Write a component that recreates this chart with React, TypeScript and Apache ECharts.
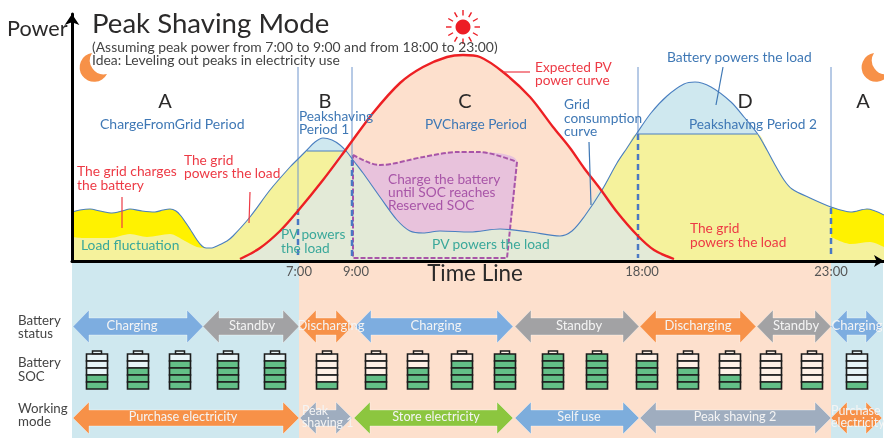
import React, { useEffect, useRef } from "react";
import * as echarts from "echarts";

// Time line is a schematic axis: x is position along the line, y is relative power.
const loadCurve: number[][] = [[72,49],[80,51],[90,52],[100,50],[112,48],[122,50],[130,52],[142,50],[155,49],[163,51],[170,52],[176,50],[181,45],[186,38],[190,32],[197,21],[202,15],[206,13],[212,13],[217,15],[227,20],[233,25],[250,44],[270,71],[290,94],[298,102],[307,111],[315,119],[323,123],[332,121],[340,116],[347,109],[353,101],[363,88],[380,64],[397,41],[410,30],[423,28],[440,30],[470,29],[500,32],[530,29],[560,25],[572,30],[584,44],[602,71],[617,98],[627,113],[637,128],[651,148],[667,165],[684,177],[695,179],[711,174],[731,159],[744,144],[757,128],[767,111],[774,98],[784,81],[792,72],[810,63],[831,54],[851,49],[867,52],[884,46]];
const pvCurve: number[][] = [[240,2],[260,13],[280,30],[297,49],[323,81],[347,113],[373,148],[400,178],[423,194],[447,204],[463,206],[480,204],[503,189],[530,164],[553,134],[570,113],[584,93],[601,71],[617,49],[637,26],[654,11],[674,2]];
const gridChargeFloorLeft: number[][] = [[72,24],[83,23],[110,23],[130,27],[147,24],[170,27],[185,20],[197,14],[206,13]];
const gridChargeFloorRight: number[][] = [[831,24],[851,17],[870,19],[884,14]];
const shaveLimit1 = [[307,110],[347,110]];
const shaveLimit2 = [[637,127],[757,127]];
const pvChargeTop: number[][] = [[353,106],[370,98],[380,96],[423,104],[457,109],[480,109],[517,99]];
const pvChargeEdge: number[][] = [[517,99],[507,3],[353,3],[353,106]];

const timeTickValues = [299, 356, 642, 831];
const timeTickLabels = ["7:00", "9:00", "18:00", "23:00"];
const periodLines = [298, 352, 638, 831];
const periodDashTops = [52, 101, 127, 53];
const periodBands = [[72,299],[299,831],[831,883]];
const periodBandNames = ["night", "day", "night"];

const statusSpans = [[73,203],[203,299],[300,352],[355,513],[515,639],[640,756],[757,831],[831,882]];
const statusLabels = ["Charging","Standby","Discharging","Charging","Standby","Discharging","Standby","Charging"];
const statusLabelCentres = [132,252,331,436,579,698,796,857];
const modeSpans = [[73,299],[300,352],[354,513],[515,639],[640,831],[831,882]];
const modeLabels = ["Purchase electricity","Peak\nshaving 1","Store electricity","Self use","Peak shaving 2","Purchase\nelectricity"];
const modeLabelCentres = [183,302,436,579,735,831];
const batteryPositions = [97,138,180,228,275,327,376,418,462,505,553,597,647,688,730,771,812,857];
const batteryLevels = [2,3,4,4,4,1,2,3,4,5,5,5,4,3,2,1,1,1];

const FONT = "Lato";
const BLUE = "#3f78b5", RED = "#ed3a45", TEAL = "#3aa89a", PURPLE = "#a855a8", DARK = "#2b2a2a", GREY = "#444444";

// [x, y, text, size, colour, align]
const notes: [number, number, string, number, string, string?][] = [
  [7, 28.3, "Power", 21.6, DARK],
  [92, 22, "Peak Shaving Mode", 27.6, DARK],
  [92, 46.3, "(Assuming peak power from 7:00 to 9:00 and from 18:00 to 23:00)", 13.9, GREY],
  [92, 59.3, "Idea: Leveling out peaks in electricity use", 13.9, GREY],
  [165, 99.5, "A", 20, DARK, "center"],
  [325, 99.5, "B", 20, DARK, "center"],
  [465, 99.5, "C", 20, DARK, "center"],
  [745, 99.5, "D", 20, DARK, "center"],
  [863, 99.5, "A", 20, DARK, "center"],
  [100, 123.3, "ChargeFromGrid Period", 14, BLUE],
  [299, 115.3, "Peakshaving", 13.7, BLUE],
  [299, 128.3, "Period 1", 13.7, BLUE],
  [425, 123.3, "PVCharge Period", 13.7, BLUE],
  [564, 103.3, "Grid", 13.7, BLUE],
  [564, 117.3, "consumption", 13.7, BLUE],
  [564, 130.3, "curve", 13.7, BLUE],
  [667, 56.3, "Battery powers the load", 13.8, BLUE],
  [689, 123.3, "Peakshaving Period 2", 13.7, BLUE],
  [535, 66.3, "Expected PV", 13.7, RED],
  [535, 79.3, "power curve", 13.7, RED],
  [77, 170.3, "The grid charges", 13.8, RED],
  [77, 184.3, "the battery", 13.8, RED],
  [184, 159.3, "The grid", 13.7, RED],
  [184, 172.3, "powers the load", 13.7, RED],
  [690, 227.3, "The grid", 13.7, RED],
  [690, 241.3, "powers the load", 13.7, RED],
  [81, 244.3, "Load fluctuation", 13.8, TEAL],
  [281, 233.3, "PV powers", 13.7, TEAL],
  [281, 247.3, "the load", 13.7, TEAL],
  [432, 243.3, "PV powers the load", 13.8, TEAL],
  [388, 178.3, "Charge the battery", 13.7, PURPLE],
  [388, 191.3, "until SOC reaches", 13.7, PURPLE],
  [388, 204.3, "Reserved SOC", 13.7, PURPLE],
  [475, 272.3, "Time Line", 22.4, DARK, "center"],
  [18, 320, "Battery", 13.3, GREY],
  [18, 333, "status", 13.3, GREY],
  [18, 362, "Battery", 13.3, GREY],
  [18, 376, "SOC", 13.3, GREY],
  [18, 408, "Working", 13.3, GREY],
  [18, 421, "mode", 13.3, GREY],
];

const colourOf: Record<string, string> = {
  Charging: "#7dade0", Standby: "#a2a2a4", Discharging: "#f79148",
  "Purchase electricity": "#f79148", "Purchase\nelectricity": "#f79148",
  "Peak\nshaving 1": "#9fadbf", "Peak shaving 2": "#9fadbf",
  "Store electricity": "#8cc63f", "Self use": "#7daddc",
};

echarts.graphic.registerShape("moon", echarts.graphic.extendPath("M15 0A14.5 14.5 0 1 0 30 21A14 14 0 0 1 15 0Z", {}) as any);

const xOf = (p: number[]) => p[0];
const cappedLoad = [
  ...loadCurve.filter((p) => xOf(p) < 307), ...shaveLimit1,
  ...loadCurve.filter((p) => xOf(p) > 347 && xOf(p) < 637), ...shaveLimit2,
  ...loadCurve.filter((p) => xOf(p) > 757),
];
const pvUsedByLoad = [
  ...pvCurve.filter((p) => xOf(p) <= 347),
  ...loadCurve.filter((p) => xOf(p) > 347 && xOf(p) < 601),
  ...pvCurve.filter((p) => xOf(p) >= 601),
];
const fill = (name: string, data: number[][], color: string, smooth = 0.3) => ({
  name, type: "line", data, smooth, symbol: "none", silent: true,
  lineStyle: { width: 0 }, areaStyle: { color, opacity: 1, origin: "start" },
});
const stroke = (name: string, data: number[][], color: string, width: number, extra: any = {}, z = 4) => ({
  name, type: "line", data, symbol: "none", silent: true, smooth: false, z,
  lineStyle: { color, width, ...extra },
});

const arrowSeries = (name: string, spans: number[][], labels: string[], centres: number[], rowY: number, half: number, shaft: number, size: number) => [
  {
    name, type: "custom", xAxisIndex: 1, yAxisIndex: 1, z: 3, silent: true,
    data: spans.map((s) => [s[0], rowY]),
    renderItem: (params: any, api: any) => {
      const i = params.dataIndex;
      const [s, e] = spans[i];
      const [x0, y] = api.coord([s, rowY]);
      const [x1] = api.coord([e, rowY]);
      const head = 16;
      return {
        type: "polygon",
        shape: { points: [[x0, y], [x0 + head, y - half], [x0 + head, y - shaft], [x1 - head, y - shaft], [x1 - head, y - half], [x1, y], [x1 - head, y + half], [x1 - head, y + shaft], [x0 + head, y + shaft], [x0 + head, y + half]] },
        style: { fill: colourOf[labels[i]], stroke: "rgba(255,255,255,0.35)", lineWidth: 1 },
      };
    },
  },
  {
    name: name + " labels", type: "custom", xAxisIndex: 1, yAxisIndex: 1, z: 8, silent: true,
    data: spans.map((s) => [s[0], rowY]),
    renderItem: (params: any, api: any) => {
      const i = params.dataIndex;
      const [tx, y] = api.coord([centres[i], rowY]);
      const lines = labels[i].split("\n");
      const two = lines.length > 1;
      return {
        type: "group",
        children: lines.map((t, k) => ({
          type: "text",
          style: {
            text: t, x: tx, y: y - 2 + (two ? (k === 0 ? -6 : 6) : 0),
            fill: "#f4f4f4", fontSize: two ? 12.4 : size, fontFamily: FONT,
            align: two ? "left" : "center", verticalAlign: "middle",
          },
        })),
      };
    },
  },
];

const App = () => {
  const ref = useRef<HTMLDivElement>(null);
  useEffect(() => {
    const chart = echarts.init(ref.current!, undefined, { renderer: "svg" });
    const rays = Array.from({ length: 12 }, (_, i) => {
      const a = (i * Math.PI) / 6;
      return {
        type: "line", z: 100,
        shape: { x1: 463 + 11.5 * Math.cos(a), y1: 27 + 11.5 * Math.sin(a), x2: 463 + 17 * Math.cos(a), y2: 27 + 17 * Math.sin(a) },
        style: { stroke: "#ed1c24", lineWidth: 1.4 },
      };
    });
    const pointers = [
      [503, 72, 530, 72, RED], [122, 197, 122, 228, RED], [250, 192, 249, 223, RED],
      [723, 67, 716, 105, BLUE], [589, 142, 591, 205, BLUE],
    ];
    chart.setOption({
      animation: false,
      grid: [
        { left: 72, top: 14, width: 812, height: 247 },
        { left: 72, top: 263, width: 812, height: 175 },
      ],
      xAxis: [
        {
          type: "value", gridIndex: 0, min: 72, max: 884, z: 10,
          splitLine: { show: false },
          axisTick: { show: false },
          axisLine: { show: true, lineStyle: { color: "#000", width: 3 }, symbol: ["none", "arrow"], symbolSize: [9, 10] },
          axisLabel: {
            show: true, customValues: timeTickValues, margin: 3, color: "#555555", fontSize: 13, fontFamily: FONT,
            formatter: (v: number) => timeTickLabels[timeTickValues.indexOf(v)] ?? "",
          },
        },
        { type: "value", gridIndex: 1, min: 72, max: 884, show: false },
      ],
      yAxis: [
        {
          type: "value", gridIndex: 0, min: 0, max: 247, z: 10,
          splitLine: { show: false }, axisTick: { show: false }, axisLabel: { show: false },
          axisLine: { show: true, lineStyle: { color: "#000", width: 3 }, symbol: ["none", "arrow"], symbolSize: [11, 11] },
        },
        { type: "value", gridIndex: 1, min: 263, max: 438, inverse: true, show: false },
      ],
      graphic: [
        ...rays,
        { type: "circle", z: 100, shape: { cx: 463, cy: 27, r: 7.5 }, style: { fill: "#ed1c24" } },
        { type: "moon", x: 77, y: 53, z: 100, style: { fill: "#f79148" } },
        { type: "moon", x: 859, y: 53, z: 100, style: { fill: "#f79148" } },
        ...pointers.map((p) => ({
          type: "line", z: 100,
          shape: { x1: p[0], y1: p[1], x2: p[2], y2: p[3] },
          style: { stroke: p[4], lineWidth: 1.2 },
        })),
        ...notes.map(([x, y, text, size, color, align]) => ({
          type: "text", z: 100, x, y,
          style: { text, fill: color, fontSize: size, fontFamily: FONT, align: align ?? "left", verticalAlign: "middle" },
        })),
      ],
      series: [
        {
          name: "bands", type: "custom", xAxisIndex: 1, yAxisIndex: 1, z: 1, silent: true,
          data: periodBands.map((b) => [b[0], 263]),
          renderItem: (params: any, api: any) => {
            const [a, b] = periodBands[params.dataIndex];
            const p0 = api.coord([a, 263]);
            const p1 = api.coord([b, 438]);
            return {
              type: "rect",
              shape: { x: p0[0], y: p0[1], width: p1[0] - p0[0], height: p1[1] - p0[1] },
              style: { fill: periodBandNames[params.dataIndex] === "night" ? "#cfe8ef" : "#fde0cd" },
            };
          },
        },
        fill("load above limit", loadCurve, "#cfe8ef"),
        fill("grid powers load", cappedLoad, "#f5f29c"),
        fill("grid charges left", loadCurve.filter((p) => xOf(p) <= 206), "#fff200"),
        fill("grid charges right", loadCurve.filter((p) => xOf(p) >= 831), "#fff200"),
        fill("fluctuation left", gridChargeFloorLeft, "#f5f29c"),
        fill("fluctuation right", gridChargeFloorRight, "#f5f29c"),
        fill("PV", pvCurve, "#fde0cd"),
        fill("PV charge", [...pvChargeTop, [510, 31]], "#e8c2dc"),
        fill("PV to load", pvUsedByLoad, "#e3ead7"),
        stroke("limit 1", shaveLimit1, "#4a7fc0", 1),
        stroke("limit 2", shaveLimit2, "#4a7fc0", 1),
        { ...stroke("PV charge top", pvChargeTop, PURPLE, 2, { type: [5, 2] }), smooth: 0.3 },
        stroke("PV charge edge", pvChargeEdge, PURPLE, 2, { type: [5, 2] }),
        ...periodLines.flatMap((x, i) => [
          stroke("period " + i, [[x, 194], [x, periodDashTops[i]]], "#6f95cc", 1, {}, 5),
          stroke("period dash " + i, [[x, periodDashTops[i]], [x, 3]], "#4a78c4", 2.5, { type: [6, 4] }, 5),
        ]),
        { ...stroke("Grid consumption curve", loadCurve, "#4a7fc0", 1.1), smooth: 0.3, z: 6 },
        { ...stroke("Expected PV power curve", pvCurve, "#ed2024", 2.4), smooth: 0.3, z: 7 },
        ...arrowSeries("Battery status", statusSpans, statusLabels, statusLabelCentres, 326.5, 16.5, 8.5, 13),
        ...arrowSeries("Working mode", modeSpans, modeLabels, modeLabelCentres, 418, 16, 8, 12.7),
        {
          name: "Battery SOC", type: "custom", xAxisIndex: 1, yAxisIndex: 1, z: 3, silent: true,
          data: batteryPositions.map((x) => [x, 371.5]),
          renderItem: (params: any, api: any) => {
            const i = params.dataIndex;
            const [cx, cy] = api.coord([batteryPositions[i], 371.5]);
            const w = 21, cell = 7, h = cell * 5;
            const top = cy - h / 2;
            return {
              type: "group",
              children: [
                { type: "rect", shape: { x: cx - 4.5, y: top - 3, width: 9, height: 3 }, style: { fill: "rgba(255,255,255,0.5)", stroke: "#1c1c1c", lineWidth: 1.5 } },
                ...[0, 1, 2, 3, 4].map((k) => ({
                  type: "rect",
                  shape: { x: cx - w / 2, y: top + k * cell, width: w, height: cell },
                  style: { fill: 4 - k < batteryLevels[i] ? "#63bf87" : "rgba(255,255,255,0.5)", stroke: "#1c1c1c", lineWidth: 1.6 },
                })),
              ],
            };
          },
        },
      ],
    });
    return () => chart.dispose();
  }, []);
  return <div ref={ref} style={{ position: "fixed", left: 0, top: 0, width: 884, height: 438 }} />;
};

export default App;
